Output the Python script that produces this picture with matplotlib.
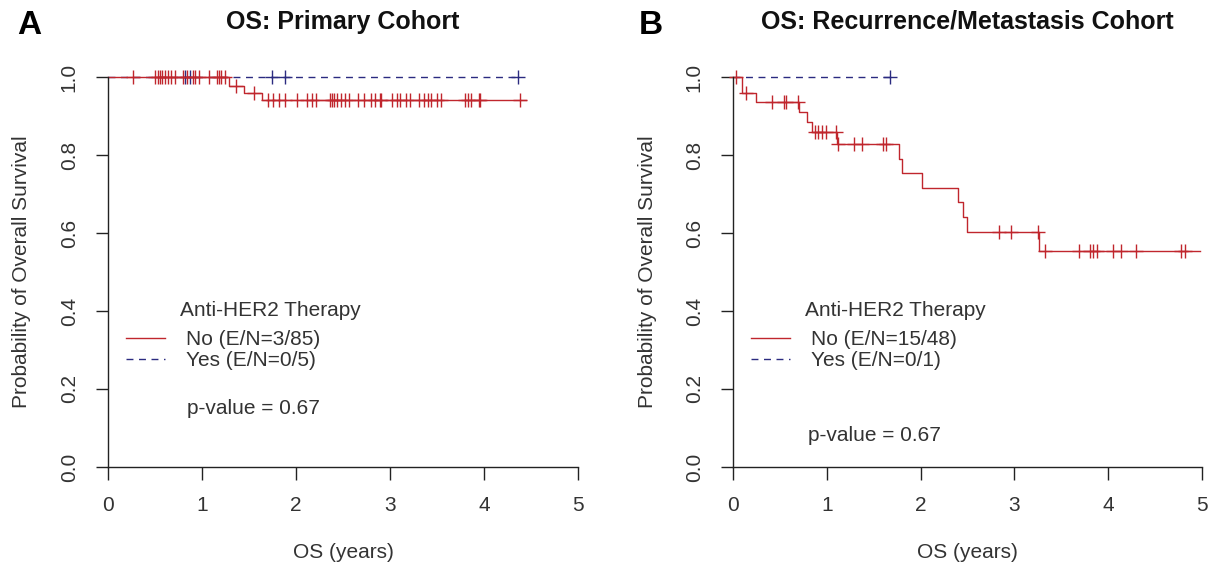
import numpy as np
import matplotlib
matplotlib.use("Agg")
import matplotlib.pyplot as plt
from matplotlib.lines import Line2D

plt.rcParams['font.family'] = ['Liberation Sans', 'DejaVu Sans']

RED = '#c0262d'
BLUE = '#2b2b80'

# panel A: primary cohort
a_no_times = [0, 1.29, 1.45, 1.64, 4.45]
a_no_surv = [1.0, 0.978, 0.958, 0.940, 0.940]
a_no_censor = [0.27, 0.50, 0.53, 0.55, 0.57, 0.61, 0.64, 0.67, 0.71, 0.80, 0.84,
               0.90, 0.93, 0.97, 1.08, 1.16, 1.18, 1.20, 1.25, 1.36, 1.55,
               1.70, 1.76, 1.82, 1.88, 2.01, 2.12, 2.17, 2.21, 2.36, 2.38, 2.40,
               2.44, 2.48, 2.52, 2.56, 2.66, 2.72, 2.80, 2.84, 2.89, 2.90, 3.02,
               3.07, 3.11, 3.17, 3.21, 3.31, 3.36, 3.40, 3.44, 3.50, 3.54, 3.80,
               3.83, 3.86, 3.95, 3.96, 4.38]
a_yes_times = [0, 4.36]
a_yes_surv = [1.0, 1.0]
a_yes_censor = [0.82, 0.87, 1.74, 1.88, 4.36]

# panel B: recurrence/metastasis cohort
b_no_times = [0, 0.10, 0.25, 0.70, 0.79, 0.84, 1.11, 1.77, 1.80, 2.02, 2.40,
              2.45, 2.49, 3.26, 4.98]
b_no_surv = [1.0, 0.958, 0.935, 0.909, 0.885, 0.860, 0.828, 0.790, 0.755,
             0.715, 0.680, 0.642, 0.602, 0.555, 0.555]
b_no_censor = [0.03, 0.14, 0.42, 0.54, 0.57, 0.69, 0.87, 0.91, 0.95, 0.99, 1.10,
               1.12, 1.29, 1.38, 1.60, 1.63, 2.84, 2.96, 3.25, 3.33, 3.69, 3.81,
               3.84, 3.88, 4.05, 4.14, 4.30, 4.78, 4.82]
b_yes_times = [0, 1.67]
b_yes_surv = [1.0, 1.0]
b_yes_censor = [1.67]

titles = ['OS: Primary Cohort', 'OS: Recurrence/Metastasis Cohort']
panel_tags = ['A', 'B']
legend_labels = [['No (E/N=3/85)', 'Yes (E/N=0/5)'],
                 ['No (E/N=15/48)', 'Yes (E/N=0/1)']]
pvalue_text = 'p-value = 0.67'
pvalue_pos = [(0.84, 0.15), (0.80, 0.08)]


def censor_levels(times, surv, cens):
    idx = np.searchsorted(times, cens, side='right') - 1
    return np.array(surv)[idx]


def km_panel(ax, groups):
    for times, surv, cens, color, ls in groups:
        ax.step(times, surv, where='post', color=color, lw=1.0, linestyle=ls,
                clip_on=False)
        ax.plot(cens, censor_levels(times, surv, cens), linestyle='none',
                marker='+', color=color, markersize=10, mew=1.0, clip_on=False)


fig = plt.figure(figsize=(12.17, 5.69), dpi=100)
ax_a = fig.add_axes([0.0887, 0.1793, 0.3862, 0.6854])
ax_b = fig.add_axes([0.6023, 0.1793, 0.3854, 0.6854])

km_panel(ax_a, [(a_yes_times, a_yes_surv, a_yes_censor, BLUE, (0, (5, 4))),
                (a_no_times, a_no_surv, a_no_censor, RED, '-')])
km_panel(ax_b, [(b_yes_times, b_yes_surv, b_yes_censor, BLUE, (0, (5, 4))),
                (b_no_times, b_no_surv, b_no_censor, RED, '-')])

for i, ax in enumerate([ax_a, ax_b]):
    ax.set_xlim(0, 5)
    ax.set_ylim(0, 1)
    ax.spines['top'].set_visible(False)
    ax.spines['right'].set_visible(False)
    for s in ['left', 'bottom']:
        ax.spines[s].set_linewidth(1.0)
        ax.spines[s].set_color('#222222')
    ax.set_xticks(range(6))
    ax.set_yticks([0, 0.2, 0.4, 0.6, 0.8, 1.0])
    ax.set_yticklabels(['0.0', '0.2', '0.4', '0.6', '0.8', '1.0'])
    ax.tick_params(length=9, width=1.0, color='#222222', labelsize=15,
                   labelcolor='#333333', pad=12)
    for lab in ax.get_yticklabels():
        lab.set_rotation(90)
        lab.set_va('center')
    ax.set_xlabel('OS (years)', fontsize=15, color='#333333')
    ax.xaxis.set_label_coords(0.5, -0.22)
    ax.xaxis.label.set_va('center')
    ax.set_ylabel('Probability of Overall Survival', fontsize=15, color='#333333')
    ax.yaxis.set_label_coords(-0.183, 0.5)
    ax.yaxis.label.set_va('center')

    ax.text(0.5, 1.141, titles[i], transform=ax.transAxes, ha='center',
            va='center', fontsize=18, fontweight='bold', color='#111111')

    handles = [Line2D([], [], color=RED, lw=1.0),
               Line2D([], [], color=BLUE, lw=1.0, linestyle=(0, (5, 4)))]
    ax.legend(handles, legend_labels[i], loc='center left',
              bbox_to_anchor=(0.038, 0.30), frameon=False, fontsize=15,
              handlelength=1.9, handletextpad=1.0, labelspacing=0.1,
              borderpad=0, borderaxespad=0, labelcolor='#333333')
    ax.text(0.77, 0.40, 'Anti-HER2 Therapy', ha='left', va='center',
            fontsize=15, color='#333333')
    ax.text(pvalue_pos[i][0], pvalue_pos[i][1], pvalue_text, ha='left',
            va='center', fontsize=15, color='#333333')

fig.text(0.024, 0.956, panel_tags[0], fontsize=24, fontweight='bold',
         ha='center', va='center')
fig.text(0.535, 0.956, panel_tags[1], fontsize=24, fontweight='bold',
         ha='center', va='center')

fig.savefig('out.png', dpi=100, facecolor='white')
